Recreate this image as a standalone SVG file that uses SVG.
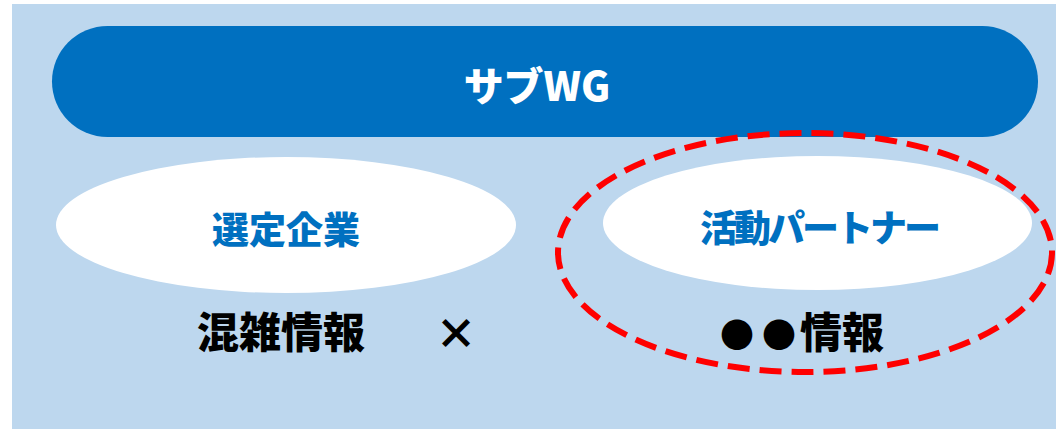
<svg xmlns="http://www.w3.org/2000/svg" width="1056" height="430" viewBox="0 0 1056 430">
<style>
.t{font-family:"Noto Sans CJK JP","Noto Sans",sans-serif;font-weight:900;text-anchor:middle}
.blue{fill:#0070C0;font-size:37px}
.blk{fill:#000000;font-size:42px}
</style>
<rect x="0" y="0" width="1056" height="430" fill="#ffffff"/>
<rect x="12" y="4" width="1044" height="425" fill="#BDD7EE"/>
<g id="subwg">
<rect x="52" y="26" width="986" height="111" rx="55.5" ry="55.5" fill="#0070C0"/>
<text class="t" x="537" y="101" fill="#ffffff" font-size="40">サブWG</text>
</g>
<g id="selected">
<ellipse cx="286" cy="225" rx="230" ry="68" fill="#ffffff"/>
<text class="t blue" x="286" y="244" font-size="38">選定企業</text>
</g>
<g id="partner">
<ellipse cx="817.5" cy="223" rx="214.5" ry="67" fill="#ffffff"/>
<text class="t blue" x="819" y="242" letter-spacing="-3">活動パートナー</text>
</g>
<g id="labels">
<text class="t blk" x="281" y="348">混雑情報</text>
<text class="t blk" x="456" y="349" font-size="36">×</text>
<text class="t blk" y="348" style="text-anchor:start"><tspan x="720" font-size="34">●</tspan><tspan x="762" font-size="34">●</tspan><tspan x="800">情報</tspan></text>
</g>
<g id="highlight">
<ellipse cx="805" cy="252.5" rx="247" ry="119.5" fill="none" stroke="#FF0000" stroke-width="6" stroke-dasharray="22 10"/>
</g>
</svg>
